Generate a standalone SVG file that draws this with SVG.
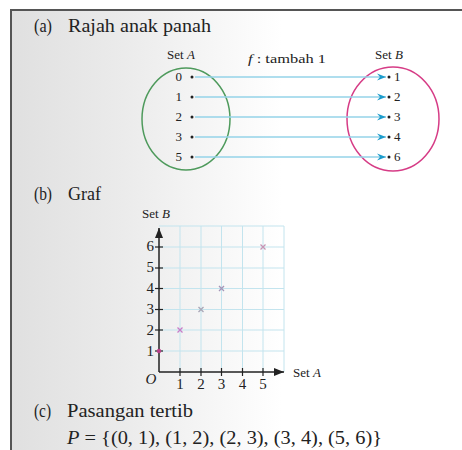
<svg xmlns="http://www.w3.org/2000/svg" width="462" height="450" viewBox="0 0 462 450">
<defs>
<linearGradient id="bg" x1="0" y1="0" x2="1" y2="0">
<stop offset="0" stop-color="#e0e0e0"/>
<stop offset="0.25" stop-color="#ebebeb"/>
<stop offset="0.6" stop-color="#ffffff"/>
<stop offset="1" stop-color="#ffffff"/>
</linearGradient>
<marker id="ah" viewBox="-9 -4 10 8" markerWidth="10" markerHeight="8" refX="0" refY="0" orient="auto" markerUnits="userSpaceOnUse">
<path d="M-9,-3.5 L0,0 L-9,3.5 L-6,0 Z" fill="#1d9ccc"/>
</marker>
<marker id="ax" viewBox="-10 -4 10 8" markerWidth="10" markerHeight="8" refX="0" refY="0" orient="auto" markerUnits="userSpaceOnUse">
<path d="M-10,-4 L0,0 L-10,4 Z" fill="#222"/>
</marker>
</defs>
<style>
text{font-family:"Liberation Serif","Times New Roman",serif;fill:#222}
.h{font-size:18px}
.s{font-size:13px}
.d{font-size:13px}
.g{font-size:15px}
.conn line{stroke:#95d3e8;stroke-width:1.3}
.grid line{stroke:#c3e4ee;stroke-width:1}
.axis{stroke:#222;stroke-width:1.5;fill:none}
.tick{stroke:#222;stroke-width:1.2}
.dot{fill:#222}
</style>
<rect x="11" y="10" width="451" height="440" fill="url(#bg)"/>
<path d="M11,450 V10 H462" fill="none" stroke="#555" stroke-width="2"/>

<g id="title-a"><text class="h" x="34" y="32" textLength="18" lengthAdjust="spacingAndGlyphs">(a)</text><text class="h" x="68" y="32" textLength="143" lengthAdjust="spacingAndGlyphs">Rajah anak panah</text></g>

<g id="setA">
<text class="s" x="181" y="59" text-anchor="middle">Set <tspan font-style="italic">A</tspan></text>
<ellipse cx="186" cy="119" rx="44" ry="51" fill="none" stroke="#4e9a5c" stroke-width="1.5"/>
<g class="d" text-anchor="end">
<text x="182" y="81">0</text><text x="182" y="101">1</text><text x="182" y="121">2</text><text x="182" y="141">3</text><text x="182" y="161">5</text>
</g>
<circle class="dot" cx="192" cy="77" r="1.5"/><circle class="dot" cx="192" cy="97" r="1.5"/><circle class="dot" cx="192" cy="117" r="1.5"/><circle class="dot" cx="192" cy="137" r="1.5"/><circle class="dot" cx="192" cy="157" r="1.5"/>
</g>

<g id="setB">
<text class="s" x="389" y="59" text-anchor="middle">Set <tspan font-style="italic">B</tspan></text>
<ellipse cx="393" cy="119" rx="46" ry="52" fill="none" stroke="#d63c86" stroke-width="1.5"/>
<g class="d">
<text x="394" y="81">1</text><text x="394" y="101">2</text><text x="394" y="121">3</text><text x="394" y="141">4</text><text x="394" y="161">6</text>
</g>
<circle class="dot" cx="389" cy="77" r="1.5"/><circle class="dot" cx="389" cy="97" r="1.5"/><circle class="dot" cx="389" cy="117" r="1.5"/><circle class="dot" cx="389" cy="137" r="1.5"/><circle class="dot" cx="389" cy="157" r="1.5"/>
</g>

<g id="label-f"><text class="s" x="248" y="63" textLength="78" lengthAdjust="spacingAndGlyphs"><tspan font-style="italic">f</tspan> : tambah 1</text></g>

<g class="conn" id="connectors">
<line x1="195" y1="77" x2="386" y2="77" marker-end="url(#ah)"/>
<line x1="195" y1="97" x2="386" y2="97" marker-end="url(#ah)"/>
<line x1="195" y1="117" x2="386" y2="117" marker-end="url(#ah)"/>
<line x1="195" y1="137" x2="386" y2="137" marker-end="url(#ah)"/>
<line x1="195" y1="157" x2="386" y2="157" marker-end="url(#ah)"/>
</g>

<g id="title-b"><text class="h" x="34" y="200" textLength="18" lengthAdjust="spacingAndGlyphs">(b)</text><text class="h" x="68" y="200">Graf</text></g>

<g id="graph">
<g class="grid">
<line x1="180" y1="226" x2="180" y2="372"/><line x1="201" y1="226" x2="201" y2="372"/><line x1="221.5" y1="226" x2="221.5" y2="372"/><line x1="242.5" y1="226" x2="242.5" y2="372"/><line x1="263" y1="226" x2="263" y2="372"/><line x1="284" y1="226" x2="284" y2="372"/>
<line x1="159" y1="351" x2="284" y2="351"/><line x1="159" y1="330" x2="284" y2="330"/><line x1="159" y1="309.5" x2="284" y2="309.5"/><line x1="159" y1="288.5" x2="284" y2="288.5"/><line x1="159" y1="268" x2="284" y2="268"/><line x1="159" y1="247" x2="284" y2="247"/><line x1="159" y1="226" x2="284" y2="226"/>
</g>
<line class="axis" x1="159" y1="372" x2="284" y2="372" marker-end="url(#ax)"/>
<line class="axis" x1="159" y1="372" x2="159" y2="228" marker-end="url(#ax)"/>
<g class="tick">
<line x1="180" y1="368" x2="180" y2="376"/><line x1="201" y1="368" x2="201" y2="376"/><line x1="221.5" y1="368" x2="221.5" y2="376"/><line x1="242.5" y1="368" x2="242.5" y2="376"/><line x1="263" y1="368" x2="263" y2="376"/>
<line x1="155" y1="351" x2="163" y2="351"/><line x1="155" y1="330" x2="163" y2="330"/><line x1="155" y1="309.5" x2="163" y2="309.5"/><line x1="155" y1="288.5" x2="163" y2="288.5"/><line x1="155" y1="268" x2="163" y2="268"/><line x1="155" y1="247" x2="163" y2="247"/>
</g>
<g class="g" text-anchor="end">
<text x="154" y="356">1</text><text x="154" y="335">2</text><text x="154" y="314">3</text><text x="154" y="293">4</text><text x="154" y="272">5</text><text x="154" y="251">6</text>
</g>
<g class="g" text-anchor="middle">
<text x="180" y="389">1</text><text x="201" y="389">2</text><text x="221.5" y="389">3</text><text x="242.5" y="389">4</text><text x="263" y="389">5</text>
</g>
<text class="g" x="151" y="384" text-anchor="middle" font-style="italic">O</text>
<text class="s" x="293" y="377">Set <tspan font-style="italic">A</tspan></text>
<text class="s" x="142" y="218">Set <tspan font-style="italic">B</tspan></text>
<g fill="none" stroke-width="1.3">
<circle cx="159" cy="351" r="2.2" fill="#b8408a" stroke="none"/>
<path d="M177.5,327.5 l5,5 M182.5,327.5 l-5,5" stroke="#c77dc8"/>
<path d="M198.5,307 l5,5 M203.5,307 l-5,5" stroke="#a8a6b6"/>
<path d="M219,286 l5,5 M224,286 l-5,5" stroke="#a596b8"/>
<path d="M260.5,244.5 l5,5 M265.5,244.5 l-5,5" stroke="#c694b4"/>
</g>
</g>

<g id="title-c"><text class="h" x="34" y="417" textLength="17" lengthAdjust="spacingAndGlyphs">(c)</text><text class="h" x="67" y="417" textLength="126" lengthAdjust="spacingAndGlyphs">Pasangan tertib</text></g>
<g id="pairs"><text class="h" x="67" y="444" textLength="315" lengthAdjust="spacingAndGlyphs"><tspan font-style="italic">P</tspan> = {(0, 1), (1, 2), (2, 3), (3, 4), (5, 6)}</text></g>
</svg>
